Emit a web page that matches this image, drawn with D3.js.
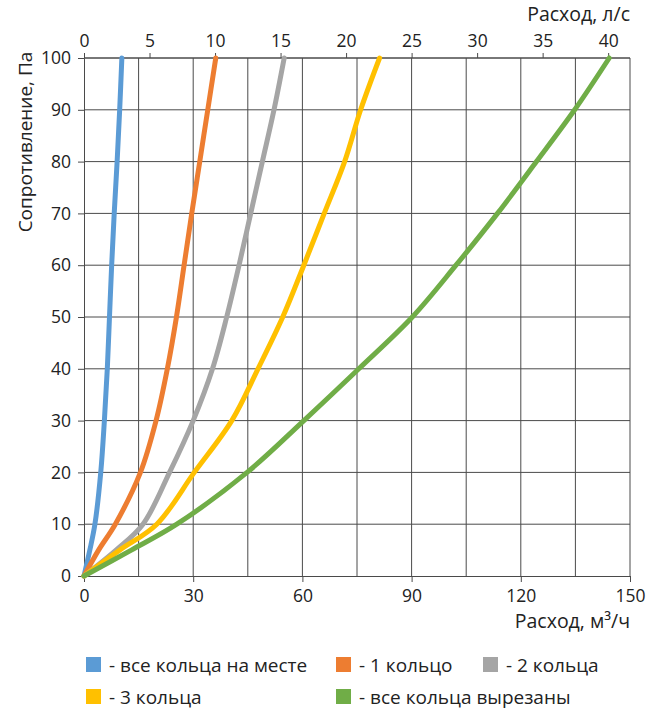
<!DOCTYPE html>
<html>
<head>
<meta charset="utf-8">
<script src="https://cdn.jsdelivr.net/npm/d3@7"></script>
<style>
  body { margin: 0; background: #fff; }
  svg { font-family: "Open Sans", sans-serif; }
</style>
</head>
<body>
<svg id="chart" width="650" height="714"></svg>
<script>
// pressure levels, Pa
var pressure = [0, 5, 10, 20, 30, 40, 50, 60, 70, 80, 90, 100];
// flow, m3/h, for each series at the pressure levels above
var flowAll   = [0, 1.6, 3.0, 4.6, 5.6, 6.4, 7.0, 7.6, 8.3, 9.1, 9.8, 10.4];
var flowOne   = [0, 4.0, 8.6, 15.5, 19.8, 22.9, 25.4, 27.5, 29.6, 31.8, 34.0, 36.2];
var flowTwo   = [0, 8.8, 16.2, 23.5, 30.0, 35.3, 39.2, 42.6, 45.8, 49.0, 52.2, 55.0];
var flowThree = [0, 9.8, 20.0, 30.3, 40.6, 47.8, 54.6, 60.4, 66.0, 71.6, 76.0, 81.2];
var flowCut   = [0, 13.0, 25.5, 44.8, 60.4, 75.5, 90.2, 102.2, 113.6, 124.3, 134.8, 144.3];

var seriesNames = ["- все кольца на месте", "- 1 кольцо", "- 2 кольца", "- 3 кольца", "- все кольца вырезаны"];
var seriesColors = ["#5B9BD5", "#ED7D31", "#A5A5A5", "#FFC000", "#70AD47"];
var seriesFlows = [flowAll, flowOne, flowTwo, flowThree, flowCut];

var bottomTicks = [0, 30, 60, 90, 120, 150];
var gridX = d3.range(0, 151, 15);
var topTicks = [0, 5, 10, 15, 20, 25, 30, 35, 40];
var leftTicks = d3.range(0, 101, 10);

var svg = d3.select("#chart");
var mLeft = 84, mRight = 630, mTop = 58, mBottom = 576;

var x = d3.scaleLinear().domain([0, 150]).range([mLeft, mRight]);
var xTop = d3.scaleLinear().domain([0, 150 / 3.6]).range([mLeft, mRight]);
var y = d3.scaleLinear().domain([0, 100]).range([mBottom, mTop]);

var gridColor = "#4a4a4a";

// grid
svg.append("g").selectAll("line")
    .data(gridX.slice(1))
    .enter().append("line")
    .attr("x1", function(d) { return x(d); })
    .attr("x2", function(d) { return x(d); })
    .attr("y1", mTop).attr("y2", mBottom)
    .attr("stroke", gridColor).attr("stroke-width", 1);

svg.append("g").selectAll("line")
    .data(leftTicks.slice(1))
    .enter().append("line")
    .attr("x1", mLeft).attr("x2", mRight)
    .attr("y1", function(d) { return y(d); })
    .attr("y2", function(d) { return y(d); })
    .attr("stroke", gridColor).attr("stroke-width", 1);

// axes
var axisBottom = svg.append("g")
    .attr("transform", "translate(0," + mBottom + ")")
    .call(d3.axisBottom(x).tickValues(bottomTicks).tickSize(6).tickPadding(8));

var axisLeft = svg.append("g")
    .attr("transform", "translate(" + mLeft + ",0)")
    .call(d3.axisLeft(y).tickValues(leftTicks).tickSize(6).tickPadding(7));

var axisTop = svg.append("g")
    .attr("transform", "translate(0," + mTop + ")")
    .call(d3.axisTop(xTop).tickValues(topTicks).tickSize(5).tickPadding(6));

[axisBottom, axisLeft, axisTop].forEach(function(a) {
    a.select(".domain").attr("stroke", gridColor).attr("stroke-width", 1);
    a.selectAll(".tick line").attr("stroke", gridColor);
    a.selectAll(".tick text")
        .attr("fill", "#222")
        .style("font-size", "17.5px")
        .style("font-family", "'Open Sans', sans-serif");
});
axisTop.select(".domain").attr("d", "M" + mLeft + ",0H" + mRight);

// axis titles
svg.append("text")
    .attr("x", mRight).attr("y", 21)
    .attr("text-anchor", "end")
    .attr("fill", "#222")
    .style("font-size", "19.5px")
    .text("Расход, л/с");

svg.append("text")
    .attr("x", mRight).attr("y", 628)
    .attr("text-anchor", "end")
    .attr("fill", "#222")
    .style("font-size", "19.5px")
    .text("Расход, м³/ч");

svg.append("text")
    .attr("transform", "translate(32,142) rotate(-90)")
    .attr("text-anchor", "middle")
    .attr("fill", "#222")
    .style("font-size", "19px")
    .text("Сопротивление, Па");

// curves
var line = d3.line()
    .x(function(d) { return x(d[0]); })
    .y(function(d) { return y(d[1]); })
    .curve(d3.curveCatmullRom.alpha(0.5));

svg.append("g").selectAll("path")
    .data(seriesFlows)
    .enter().append("path")
    .attr("d", function(f) { return line(f.map(function(v, i) { return [v, pressure[i]]; })); })
    .attr("fill", "none")
    .attr("stroke", function(d, i) { return seriesColors[i]; })
    .attr("stroke-width", 5)
    .attr("stroke-linecap", "round")
    .attr("stroke-linejoin", "round");

// legend
var legendPos = [[86, 657], [336, 657], [483, 657], [86, 689], [336, 689]];
var legend = svg.append("g").selectAll("g")
    .data(seriesNames)
    .enter().append("g")
    .attr("transform", function(d, i) { return "translate(" + legendPos[i][0] + "," + legendPos[i][1] + ")"; });

legend.append("rect")
    .attr("width", 15).attr("height", 15)
    .attr("fill", function(d, i) { return seriesColors[i]; });

legend.append("text")
    .attr("x", 23).attr("y", 15)
    .attr("fill", "#222")
    .style("font-size", "19px")
    .text(function(d) { return d; });
</script>
</body>
</html>
